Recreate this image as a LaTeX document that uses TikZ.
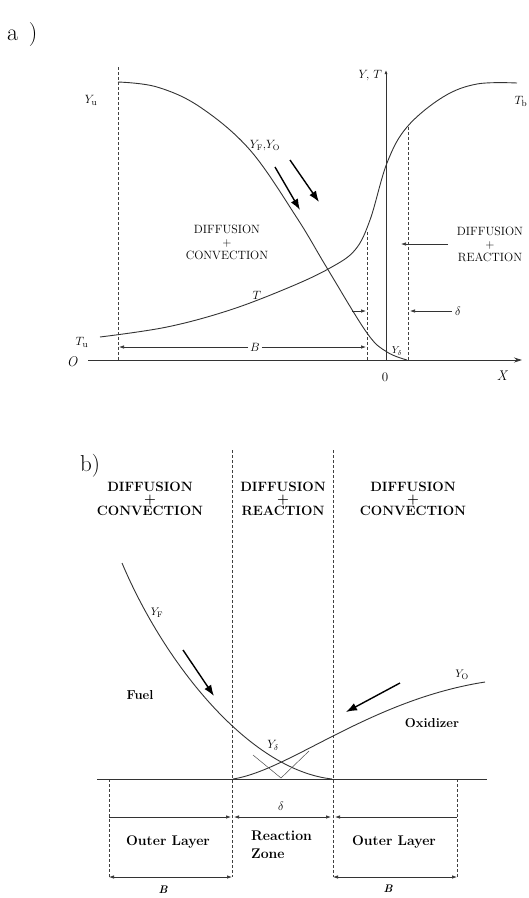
\documentclass[tikz,border=0pt]{standalone}
\usetikzlibrary{arrows.meta}
\begin{document}
\begin{tikzpicture}[x=1pt,y=-1pt,
  curve/.style={line width=0.9pt, black!80},
  dashline/.style={dash pattern=on 3pt off 2pt, line width=0.6pt, black!75},
  axisline/.style={line width=0.8pt, black!80},
  dimarrow/.style={line width=0.7pt, black!80, -{Latex[length=5pt,width=3.5pt]}},
  dimboth/.style={line width=0.7pt, black!80, {Latex[length=5pt,width=3.5pt]}-{Latex[length=5pt,width=3.5pt]}},
  flux/.style={line width=1.4pt, -{Latex[length=11pt,width=8pt]}},
  lbl/.style={inner sep=0pt, font=\fontsize{13}{14}\selectfont},
  caps/.style={inner sep=0pt, align=center, font=\fontsize{12}{15}\selectfont},
  bcaps/.style={inner sep=0pt, align=center, font=\fontsize{13.5}{16}\selectfont\bfseries},
  btxt/.style={inner sep=0pt, font=\fontsize{14}{16}\selectfont\bfseries},
]
\useasboundingbox (0,0) rectangle (529,898);

%%%%%%%%%%%%%%%% part a %%%%%%%%%%%%%%%%
\node[lbl, font=\fontsize{24}{26}\selectfont, anchor=west] (la) at (7,35) {a\;\,)};

% axes
\coordinate (xo) at (88,360);
\coordinate (xe) at (522,360);
\draw[axisline, -{Stealth[length=8pt,width=5pt]}] (xo) -- (xe);
\coordinate (yo) at (386,360);
\coordinate (ye) at (386,70);
\draw[axisline, -{Latex[length=4pt,width=3pt]}] (yo) -- (ye);
\node[lbl, font=\fontsize{14}{15}\selectfont\itshape] (lo) at (72,362) {O};
\node[lbl, font=\fontsize{14}{15}\selectfont\itshape] (lx) at (502,376) {X};
\node[lbl] (lzero) at (385,377) {0};
\node[lbl, anchor=east] (lyt) at (382,76) {$Y,\,T$};

% dashed verticals
\draw[dashline] (118,67) -- (118,360);
\draw[dashline] (367,232) -- (367,360);
\draw[dashline] (408,127) -- (408,360);

% Y curve
\draw[curve] plot[smooth, tension=0.6] coordinates
  {(118,82) (157,87) (200,107) (250,150) (297,218) (327,268) (367,333) (387,352) (407,360)};
% T curve
\draw[curve] plot[smooth, tension=0.6] coordinates
  {(100,337) (167,327) (230,310) (290,287) (330,268) (355,250) (370,220) (387,163) (407,127) (443,97) (477,84) (517,83)};

\node[lbl] (lyu) at (91,100) {$Y_{\mathrm{u}}$};
\node[lbl] (ltb) at (521,101) {$T_{\mathrm{b}}$};
\node[lbl] (ltu) at (82,342) {$T_{\mathrm{u}}$};
\node[lbl] (lt) at (257,295) {$T$};
\node[lbl, font=\fontsize{12}{13}\selectfont] (lyfo) at (265,146) {$Y_{\mathrm{F}},\!Y_{\mathrm{O}}$};
\node[lbl, font=\fontsize{10}{11}\selectfont] (lyd) at (397,351) {$Y_\delta$};

% flux arrows
\coordinate (fa1) at (275,167); \coordinate (fb1) at (300,210);
\coordinate (fa2) at (290,160); \coordinate (fb2) at (319,202);
\draw[flux] (fa1) -- (fb1);
\draw[flux] (fa2) -- (fb2);

% region labels
\node[caps] (ldc) at (227,242) {DIFFUSION\\[-2pt]+\\[-2pt]CONVECTION};
\node[caps] (ldr) at (490,244) {DIFFUSION\\[-2pt]+\\[-2pt]REACTION};

% delta arrows
\coordinate (dr1) at (448,244); \coordinate (dr2) at (401,244);
\draw[dimarrow] (dr1) -- (dr2);
\node[lbl] (ldel) at (458,311) {$\delta$};
\draw[dimarrow] (ldel.west) ++(-3,0) -- (410,311);
\coordinate (dl1) at (352,311); \coordinate (dl2) at (366,311);
\draw[dimarrow] (dl1) -- (dl2);

% B dimension
\node[lbl, fill=white, inner sep=2pt] (lb) at (255,347) {$B$};
\coordinate (bl) at (119,347); \coordinate (br) at (366,347);
\draw[dimarrow] (lb.west) -- (bl);
\draw[dimarrow] (lb.east) -- (br);

%%%%%%%%%%%%%%%% part b %%%%%%%%%%%%%%%%
\node[lbl, font=\fontsize{23}{25}\selectfont, anchor=west] (lbb) at (80,466) {b)};

\draw[dashline] (232,450) -- (232,877);
\draw[dashline] (333,450) -- (333,877);
\draw[dashline] (109,779) -- (109,877);
\draw[dashline] (457,779) -- (457,877);

\node[bcaps] (h1) at (150,499) {DIFFUSION\\[-4pt]+\\[-4pt]CONVECTION};
\node[bcaps] (h2) at (283,499) {DIFFUSION\\[-4pt]+\\[-4pt]REACTION};
\node[bcaps] (h3) at (413,499) {DIFFUSION\\[-4pt]+\\[-4pt]CONVECTION};

% baseline
\coordinate (bs) at (97,779); \coordinate (be) at (487,779);
\draw[axisline] (bs) -- (be);

% Y_F and Y_O curves
\draw[curve] (122,563) .. controls (165,665) and (250,770) .. (332,779);
\draw[curve] (233,779) .. controls (290,770) and (370,700) .. (485,682);

% tangent extrapolations
\draw[line width=0.5pt, black!70] (253,755) -- (281,778) -- (309,751);

\node[lbl, font=\fontsize{11}{12}\selectfont] (lyF) at (157,613) {$Y_{\mathrm{F}}$};
\node[lbl, font=\fontsize{11}{12}\selectfont] (lyO) at (462,675) {$Y_{\mathrm{O}}$};
\node[lbl, font=\fontsize{12}{13}\selectfont] (lyD) at (273,745) {$Y_\delta$};
\node[btxt, font=\fontsize{13}{15}\selectfont\bfseries] (lfuel) at (140,695) {Fuel};
\node[btxt, font=\fontsize{13}{15}\selectfont\bfseries] (lox) at (432,723) {Oxidizer};

\coordinate (ff1) at (183,650); \coordinate (ff2) at (214,696);
\draw[flux] (ff1) -- (ff2);
\coordinate (fo1) at (400,683); \coordinate (fo2) at (346,712);
\draw[flux] (fo1) -- (fo2);

% dimension lines
\node[lbl, font=\fontsize{12}{13}\selectfont] (ldb) at (281,806) {$\delta$};
\coordinate (m1) at (109,817); \coordinate (m2) at (232,817);
\coordinate (m3) at (333,817); \coordinate (m4) at (457,817);
\draw[dimarrow] (m1) -- (231,817);
\draw[dimboth] (234,817) -- (331,817);
\draw[dimarrow] (m4) -- (335,817);

\node[btxt] (lo1) at (168,842) {Outer Layer};
\node[btxt, align=left, anchor=north west, font=\fontsize{14}{18}\selectfont\bfseries] (lrz) at (251,831) {Reaction\\Zone};
\node[btxt] (lo2) at (394,842) {Outer Layer};

\coordinate (n1) at (109,877); \coordinate (n2) at (232,877);
\coordinate (n3) at (333,877); \coordinate (n4) at (457,877);
\draw[dimboth] (n1) -- (n2);
\draw[dimboth] (n3) -- (n4);
\node[lbl, font=\fontsize{11}{12}\selectfont\bfseries\itshape] (lb1) at (163,890) {B};
\node[lbl, font=\fontsize{11}{12}\selectfont\bfseries\itshape] (lb2) at (388,889) {B};

\end{tikzpicture}
\end{document}
